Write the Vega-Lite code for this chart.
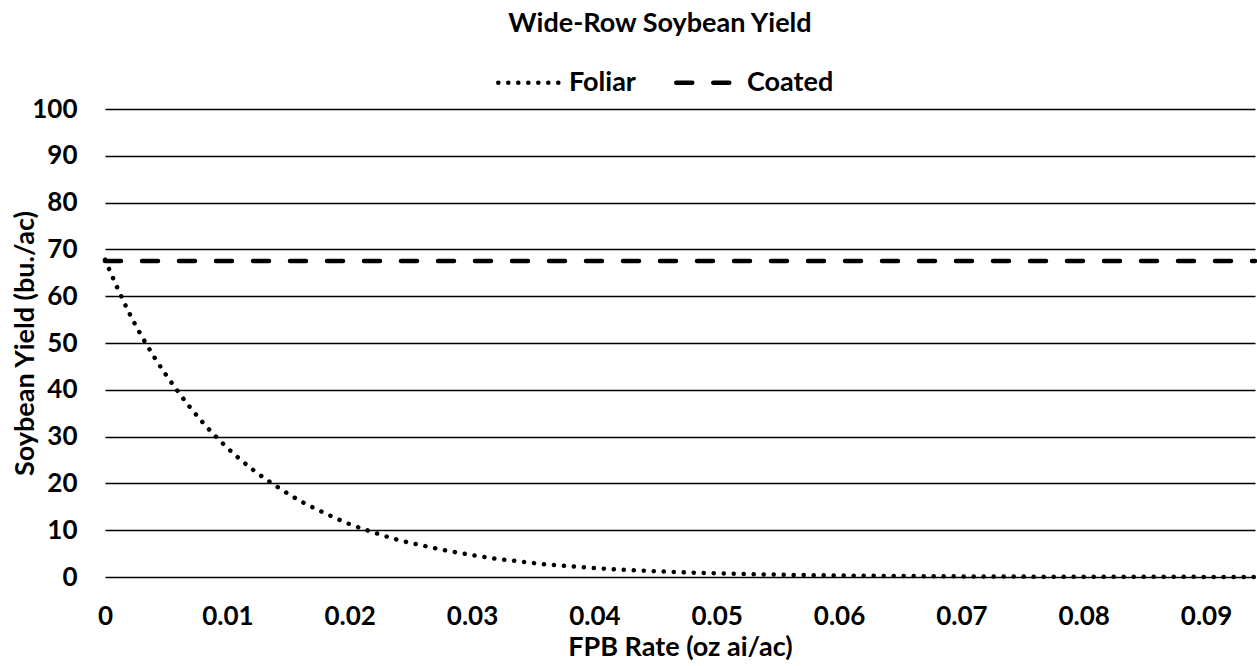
{
  "$schema": "https://vega.github.io/schema/vega-lite/v6.json",
  "width": 1150,
  "height": 468,
  "autosize": {"type": "none"},
  "padding": {"left": 105, "top": 109, "right": 2, "bottom": 89},
  "background": "white",
  "title": {
    "text": "Wide-Row Soybean Yield",
    "font": "Lato",
    "fontSize": 27,
    "fontWeight": "bold",
    "color": "black",
    "anchor": "middle",
    "dx": -20,
    "offset": 12
  },
  "data": {
    "values": [
      {"series": "Coated", "rate": 0, "yield": 67.5},
      {"series": "Coated", "rate": 0.094, "yield": 67.5},
      {"series": "Foliar", "rate": 0, "yield": 67.8},
      {"series": "Foliar", "rate": 0.002, "yield": 56.3},
      {"series": "Foliar", "rate": 0.004, "yield": 47.1},
      {"series": "Foliar", "rate": 0.006, "yield": 39.5},
      {"series": "Foliar", "rate": 0.008, "yield": 33.0},
      {"series": "Foliar", "rate": 0.010, "yield": 27.6},
      {"series": "Foliar", "rate": 0.012, "yield": 23.1},
      {"series": "Foliar", "rate": 0.014, "yield": 19.4},
      {"series": "Foliar", "rate": 0.016, "yield": 16.2},
      {"series": "Foliar", "rate": 0.018, "yield": 13.6},
      {"series": "Foliar", "rate": 0.020, "yield": 11.3},
      {"series": "Foliar", "rate": 0.022, "yield": 9.5},
      {"series": "Foliar", "rate": 0.024, "yield": 7.9},
      {"series": "Foliar", "rate": 0.026, "yield": 6.7},
      {"series": "Foliar", "rate": 0.028, "yield": 5.6},
      {"series": "Foliar", "rate": 0.030, "yield": 4.7},
      {"series": "Foliar", "rate": 0.032, "yield": 3.9},
      {"series": "Foliar", "rate": 0.034, "yield": 3.3},
      {"series": "Foliar", "rate": 0.036, "yield": 2.7},
      {"series": "Foliar", "rate": 0.038, "yield": 2.3},
      {"series": "Foliar", "rate": 0.040, "yield": 1.9},
      {"series": "Foliar", "rate": 0.044, "yield": 1.34},
      {"series": "Foliar", "rate": 0.048, "yield": 0.94},
      {"series": "Foliar", "rate": 0.052, "yield": 0.66},
      {"series": "Foliar", "rate": 0.056, "yield": 0.46},
      {"series": "Foliar", "rate": 0.060, "yield": 0.32},
      {"series": "Foliar", "rate": 0.066, "yield": 0.19},
      {"series": "Foliar", "rate": 0.072, "yield": 0.11},
      {"series": "Foliar", "rate": 0.080, "yield": 0.05},
      {"series": "Foliar", "rate": 0.088, "yield": 0.03},
      {"series": "Foliar", "rate": 0.094, "yield": 0.02}
    ]
  },
  "mark": {
    "type": "line",
    "color": "black",
    "strokeWidth": 4.5,
    "strokeCap": "round",
    "interpolate": "monotone"
  },
  "encoding": {
    "x": {
      "field": "rate",
      "type": "quantitative",
      "scale": {"domain": [0, 0.094], "nice": false},
      "axis": {
        "values": [0, 0.01, 0.02, 0.03, 0.04, 0.05, 0.06, 0.07, 0.08, 0.09],
        "format": "~g",
        "grid": false,
        "domain": false,
        "ticks": false,
        "tickSize": 0,
        "labelFlush": false,
        "labelOverlap": false,
        "labelPadding": 26,
        "labelFont": "Lato",
        "labelFontSize": 26,
        "labelFontWeight": "bold",
        "labelColor": "black",
        "title": "FPB Rate (oz ai/ac)",
        "titleFont": "Lato",
        "titleFontSize": 27,
        "titleFontWeight": "bold",
        "titleColor": "black",
        "titleY": 70,
        "titleBaseline": "middle"
      }
    },
    "y": {
      "field": "yield",
      "type": "quantitative",
      "scale": {"domain": [0, 100], "nice": false},
      "axis": {
        "values": [0, 10, 20, 30, 40, 50, 60, 70, 80, 90, 100],
        "grid": true,
        "gridColor": "black",
        "gridWidth": 1.6,
        "domain": false,
        "ticks": false,
        "tickSize": 0,
        "labelPadding": 28,
        "labelFont": "Lato",
        "labelFontSize": 26,
        "labelFontWeight": "bold",
        "labelColor": "black",
        "title": "Soybean Yield (bu./ac)",
        "titleFont": "Lato",
        "titleFontSize": 27,
        "titleFontWeight": "bold",
        "titleColor": "black",
        "titleX": -80,
        "titleY": 234,
        "titleAngle": -90,
        "titleAlign": "center",
        "titleBaseline": "middle"
      }
    },
    "strokeDash": {
      "field": "series",
      "type": "nominal",
      "scale": {"domain": ["Foliar", "Coated"], "range": [[0.1, 9.9], [16, 21]]},
      "legend": {
        "title": null,
        "orient": "none",
        "legendX": 391,
        "legendY": -59,
        "direction": "horizontal",
        "symbolType": "stroke",
        "symbolSize": 3660,
        "symbolStrokeWidth": 4.5,
        "symbolStrokeColor": "black",
        "labelFont": "Lato",
        "labelFontSize": 27,
        "labelFontWeight": "bold",
        "labelColor": "black",
        "labelOffset": 8,
        "columnPadding": 31,
        "encode": {"symbols": {"update": {"strokeCap": {"value": "round"}}}}
      }
    }
  },
  "config": {"view": {"stroke": null}}
}
